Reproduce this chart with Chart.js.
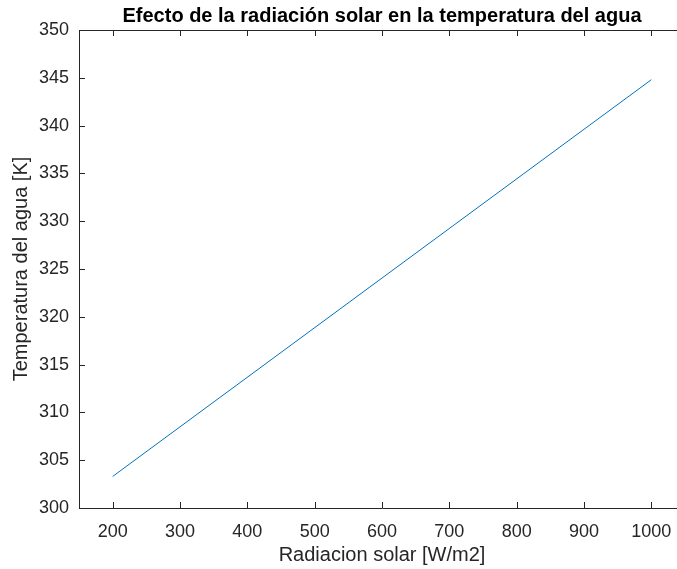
<!DOCTYPE html>
<html>
<head>
<meta charset="utf-8">
<script src="https://cdn.jsdelivr.net/npm/chart.js@4"></script>
<style>
  html, body { margin: 0; padding: 0; background: #fff; overflow: hidden; }
  canvas { display: block; }
</style>
</head>
<body>
<canvas id="chart" width="690" height="569"></canvas>
<script>
// datos
const radiacion = [200, 1000];
const temperatura = [303.3, 344.8];
const xTicks = [200, 300, 400, 500, 600, 700, 800, 900, 1000];
const yTicks = [300, 305, 310, 315, 320, 325, 330, 335, 340, 345, 350];
const titulo = 'Efecto de la radiación solar en la temperatura del agua';

const axisColor = '#262626';
const fontFam = '"Liberation Sans", Arial, sans-serif';

// ticks hacia dentro, linea superior y titulo centrado sobre los ejes (estilo matlab)
const boxTicks = {
  id: 'boxTicks',
  afterDraw(chart) {
    const {ctx, chartArea: a, scales} = chart;
    const len = 6;
    ctx.save();
    ctx.strokeStyle = axisColor;
    ctx.lineWidth = 1;
    ctx.beginPath();
    ctx.moveTo(a.left, a.top + 0.5);
    ctx.lineTo(a.right, a.top + 0.5);
    xTicks.forEach(v => {
      const x = Math.round(scales.x.getPixelForValue(v)) + 0.5;
      ctx.moveTo(x, a.bottom);
      ctx.lineTo(x, a.bottom - len);
      ctx.moveTo(x, a.top);
      ctx.lineTo(x, a.top + len);
    });
    yTicks.forEach(v => {
      const y = Math.round(scales.y.getPixelForValue(v)) + 0.5;
      ctx.moveTo(a.left, y);
      ctx.lineTo(a.left + len, y);
      ctx.moveTo(a.right, y);
      ctx.lineTo(a.right - len, y);
    });
    ctx.stroke();

    ctx.fillStyle = '#000';
    ctx.font = 'bold 20px ' + fontFam;
    ctx.textAlign = 'center';
    ctx.textBaseline = 'middle';
    ctx.fillText(titulo, (a.left + a.right) / 2, 16);
    ctx.restore();
  }
};

new Chart(document.getElementById('chart'), {
  type: 'line',
  data: {
    datasets: [{
      data: radiacion.map((x, i) => ({x: x, y: temperatura[i]})),
      borderColor: '#0072BD',
      borderWidth: 1,
      pointRadius: 0,
      fill: false,
      tension: 0
    }]
  },
  options: {
    responsive: false,
    animation: false,
    devicePixelRatio: 1,
    layout: {padding: {left: 0, right: 5, top: 30, bottom: 0}},
    plugins: {
      legend: {display: false},
      tooltip: {enabled: false},
      title: {display: false}
    },
    scales: {
      x: {
        type: 'linear',
        min: 150,
        max: 1050,
        afterBuildTicks: s => { s.ticks = xTicks.map(v => ({value: v})); },
        afterFit: s => { s.height = 61; },
        grid: {drawOnChartArea: false, drawTicks: false},
        border: {color: axisColor, width: 1},
        ticks: {
          color: axisColor,
          font: {family: fontFam, size: 18},
          padding: 13,
          maxRotation: 0,
          callback: v => String(v)
        },
        title: {
          display: true,
          text: 'Radiacion solar [W/m2]',
          color: axisColor,
          font: {family: fontFam, size: 20},
          padding: {top: 0, bottom: 2}
        }
      },
      y: {
        type: 'linear',
        min: 300,
        max: 350,
        afterBuildTicks: s => { s.ticks = yTicks.map(v => ({value: v})); },
        afterFit: s => { s.width = 79; },
        grid: {drawOnChartArea: false, drawTicks: false},
        border: {color: axisColor, width: 1},
        ticks: {
          color: axisColor,
          font: {family: fontFam, size: 18},
          padding: 10,
          callback: v => String(v)
        },
        title: {
          display: true,
          text: 'Temperatura del agua [K]',
          color: axisColor,
          font: {family: fontFam, size: 20},
          padding: {top: 9, bottom: 0}
        }
      }
    }
  },
  plugins: [boxTicks]
});
</script>
</body>
</html>
